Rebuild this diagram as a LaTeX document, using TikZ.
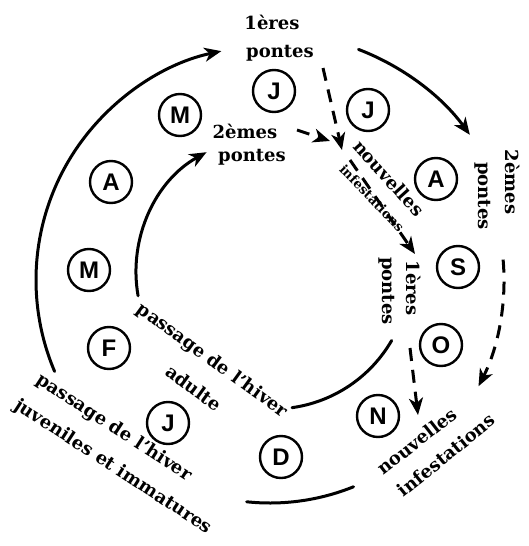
\documentclass[tikz,border=0pt]{standalone}
\usepackage{fontspec}
\setmainfont{DejaVu Serif}
\newfontfamily\monthfont{Liberation Sans}
\usetikzlibrary{arrows.meta,calc}
\begin{document}
\begin{tikzpicture}[x=1pt,y=-1pt,
  month/.style={circle,draw,line width=2.4pt,minimum size=42pt,inner sep=0pt,
    font=\monthfont\bfseries\fontsize{24}{24}\selectfont},
  lbl/.style={font=\bfseries\fontsize{18}{18}\selectfont,inner sep=0pt},
  small/.style={font=\bfseries\fontsize{13}{13}\selectfont,inner sep=0pt},
  conn/.style={line width=3pt,line cap=round},
  tip/.style={-{Stealth[length=17pt,width=14pt,inset=5pt]}},
  dsh/.style={dash pattern=on 13pt off 9pt,line cap=butt}]
\path[use as bounding box] (0,0) rectangle (528,546);
% month circles
\node[month] (jun) at (274,91) {J};
\node[month] (jul) at (368,110) {J};
\node[month] (aug) at (436,179) {A};
\node[month] (sep) at (458,267) {S};
\node[month] (oct) at (441,345) {O};
\node[month] (nov) at (378,416) {N};
\node[month] (dec) at (281,457) {D};
\node[month] (jan) at (168,423) {J};
\node[month] (feb) at (109,348) {F};
\node[month] (mar) at (89,270) {M};
\node[month] (apr) at (111,182) {A};
\node[month] (may) at (180,115) {M};
% centres of the rings
\coordinate (co) at (270,280);
\coordinate (ci) at (273,272);
\coordinate (o1s) at ($(co)+(157:234)$);
\coordinate (o2s) at ($(co)+(-69:247)$);
\coordinate (o3s) at ($(co)+(-5:234)$);
\coordinate (o4s) at ($(co)+(68:223)$);
\coordinate (i1s) at ($(ci)+(170:137)$);
\coordinate (i2s) at ($(ci)+(30:137)$);
% outer ring
\draw[conn,tip] (o1s) arc[start angle=157,end angle=258,radius=234];
\draw[conn,tip] (o2s) arc[start angle=-69,end angle=-36,radius=247];
\draw[conn,tip,dsh] (o3s) arc[start angle=-5,end angle=27,radius=234];
\draw[conn] (o4s) arc[start angle=68,end angle=96,radius=223];
% inner ring
\draw[conn,tip] (i1s) arc[start angle=170,end angle=241,radius=137];
\draw[conn] (i2s) arc[start angle=30,end angle=82,radius=137];
% dashed arrows
\coordinate (d1a) at (297,130);
\coordinate (d1b) at (330,141);
\coordinate (d2a) at (323,68);
\coordinate (d2b) at (342,150);
\coordinate (d3a) at (350,160);
\coordinate (d3b) at (415,254);
\coordinate (d4a) at (410,348);
\coordinate (d4b) at (418,415);
\draw[conn,tip,dsh] (d1a) -- (d1b);
\draw[conn,tip,dsh] (d2a) -- (d2b);
\draw[conn,tip,dsh] (d3a) -- (d3b);
\draw[conn,tip,dsh] (d4a) -- (d4b);
% labels
\node[lbl] (t1a) at (272,22) {1ères};
\node[lbl] (t1b) at (280,53) {pontes};
\node[lbl] (t2a) at (245,131) {2èmes};
\node[lbl] (t2b) at (252,157) {pontes};
\node[lbl,rotate=-48] (t3a) at (389,178) {nouvelles};
\node[small,rotate=-46] (t3b) at (372,198) {infestations};
\node[lbl,rotate=-90] (t4a) at (513,182) {2èmes};
\node[lbl,rotate=-90] (t4b) at (483,196) {pontes};
\node[lbl,rotate=-90] (t5a) at (414,288) {1ères};
\node[lbl,rotate=-90] (t5b) at (387,291) {pontes};
\node[lbl,rotate=-36] (t6a) at (212,361) {passage de l'hiver};
\node[lbl,rotate=-36] (t6b) at (194,388) {adulte};
\node[lbl,rotate=-33] (t7a) at (114,428) {passage de l'hiver};
\node[lbl,rotate=-33] (t7b) at (113,467) {juveniles et immatures};
\node[lbl,rotate=38] (t8a) at (417,441) {nouvelles};
\node[lbl,rotate=39] (t8b) at (446,455) {infestations};
\end{tikzpicture}
\end{document}
